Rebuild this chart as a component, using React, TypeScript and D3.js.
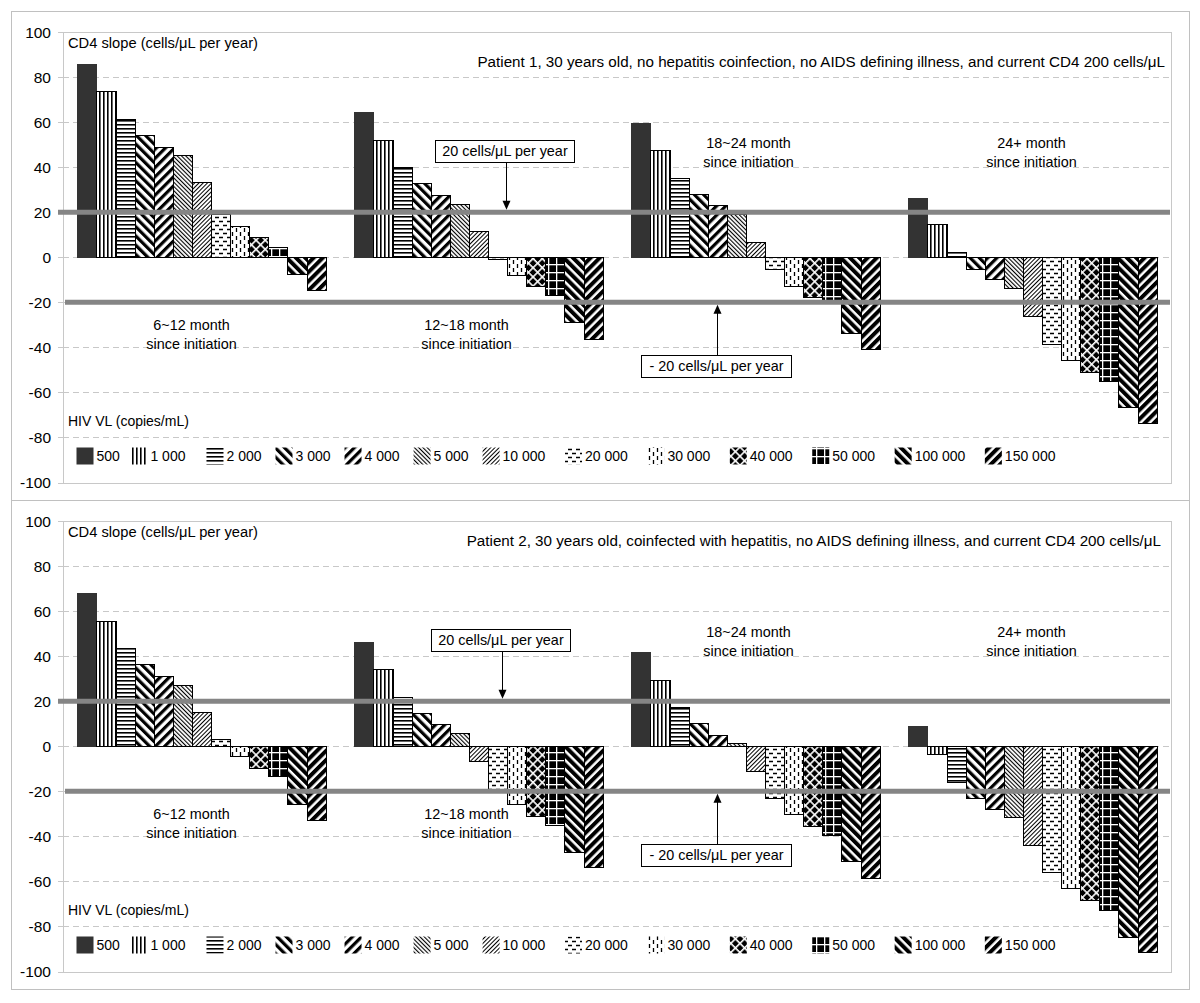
import React from "react";
import * as d3 from "d3";

// time since initiation (one group of bars each)
const categories = ["6~12 month", "12~18 month", "18~24 month", "24+ month"];
// HIV viral load series (copies/mL)
const vlLevels = ["500", "1 000", "2 000", "3 000", "4 000", "5 000", "10 000", "20 000", "30 000", "40 000", "50 000", "100 000", "150 000"];

// CD4 slope (cells/uL per year), one row per category, one value per VL level
const patient1 = [
  [85.8, 73.6, 61.3, 54.2, 49.0, 45.2, 33.2, 19.4, 13.9, 9.0, 4.7, -7.6, -14.7],
  [64.4, 52.0, 40.0, 32.8, 27.6, 23.6, 11.6, -0.8, -7.8, -12.7, -16.7, -28.7, -36.4],
  [59.5, 47.7, 35.4, 28.1, 23.2, 19.0, 6.9, -5.3, -12.7, -17.5, -20.0, -33.8, -40.9],
  [26.5, 14.6, 2.5, -5.0, -9.8, -13.8, -26.2, -38.5, -45.5, -50.9, -54.8, -66.7, -73.8],
];
const patient2 = [
  [67.9, 55.7, 43.4, 36.3, 31.3, 27.4, 15.3, 3.1, -4.4, -9.5, -13.3, -25.5, -32.6],
  [46.4, 34.2, 21.9, 14.8, 9.8, 5.9, -6.5, -18.8, -25.8, -31.0, -34.8, -47.0, -53.8],
  [41.8, 29.6, 17.6, 10.4, 5.2, 1.3, -10.8, -22.9, -30.0, -35.2, -39.2, -51.0, -58.4],
  [8.8, -3.5, -15.8, -22.9, -27.9, -31.6, -43.7, -56.0, -63.1, -68.3, -72.6, -84.5, -91.5],
];
const yTicks = [100, 80, 60, 40, 20, 0, -20, -40, -60, -80, -100];
const thresholds = [20, -20];

const FONT = "'Liberation Sans', Arial, sans-serif";
const GRID = "#c8c8c8";
const REF = "#858585";

// Excel-like pattern fills, one per VL level
const Patterns = () => {
  const stripes = (id, size, w, angle) => (
    <pattern id={id} key={id} patternUnits="userSpaceOnUse" width={size} height={size} patternTransform={`rotate(${angle})`}>
      <rect width={size} height={size} fill="#fff" />
      <rect width={w} height={size} fill="#000" />
    </pattern>
  );
  return (
    <defs>
      {stripes("p1", 4, 1.6, 0)}
      {stripes("p2", 4, 1.6, 90)}
      {stripes("p3", 6.5, 3.2, -45)}
      {stripes("p4", 6.5, 3.2, 45)}
      {stripes("p5", 3, 1.1, -45)}
      {stripes("p6", 3, 1.0, 45)}
      <pattern id="p7" patternUnits="userSpaceOnUse" width={8} height={8}>
        <rect width={8} height={8} fill="#fff" />
        <path d="M0,1.5h4M4,5.5h4" stroke="#000" strokeWidth={1.3} />
      </pattern>
      <pattern id="p8" patternUnits="userSpaceOnUse" width={8} height={8}>
        <rect width={8} height={8} fill="#fff" />
        <path d="M1.5,0v4M5.5,4v4" stroke="#000" strokeWidth={1.3} />
      </pattern>
      <pattern id="p9" patternUnits="userSpaceOnUse" width={6.5} height={6.5} patternTransform="rotate(45)">
        <rect width={6.5} height={6.5} fill="#000" />
        <rect width={1.6} height={6.5} fill="#fff" />
        <rect width={6.5} height={1.6} fill="#fff" />
      </pattern>
      <pattern id="p10" patternUnits="userSpaceOnUse" width={8} height={8}>
        <rect width={8} height={8} fill="#000" />
        <rect width={1.3} height={8} fill="#fff" />
        <rect width={8} height={1.3} fill="#fff" />
      </pattern>
      {stripes("p11", 6.5, 4, -45)}
      {stripes("p12", 6.5, 4, 45)}
    </defs>
  );
};

const fillFor = (i) => (i === 0 ? "#333" : `url(#p${i})`);

// legend text width from Arial metrics (digits .556em, space .278em)
const textW = (s, size) => s.split("").reduce((a, c) => a + (c === " " ? 0.278 : 0.556), 0) * size;
const legendGap = (i) => (i === 0 ? 10.6 : i === 1 ? 21 : i < 6 ? 14 : 19.6);

const Arrow = ({ x, y1, y2 }) => {
  const dir = y2 > y1 ? 1 : -1;
  return (
    <g>
      <line x1={x} x2={x} y1={y1} y2={y2 - dir * 8} stroke="#000" strokeWidth={1} />
      <path d={`M${x - 4},${y2 - dir * 9}L${x + 4},${y2 - dir * 9}L${x},${y2}Z`} fill="#000" />
    </g>
  );
};

const Panel = ({ data, dy, title, titleY, titleX, boxX }) => {
  const top = 32 + dy;
  const bottom = 482.5 + dy;
  const left = 63;
  const right = 1171;

  const y = d3.scaleLinear().domain([-100, 100]).range([bottom, top]);
  const x0 = d3.scaleBand().domain(categories).range([left, right]).paddingInner(0).paddingOuter(0);
  const x1 = d3.scaleBand().domain(vlLevels).range([0, x0.bandwidth()]).paddingInner(0).paddingOuter(0.75);

  const labelDx = [-10, -12, -7, -1];
  const labelLow = [true, true, false, false];

  // legend layout
  let lx = 76.5;
  const legendItems = vlLevels.map((lv, i) => {
    const item = { lv, i, x: lx };
    lx += 17 + 3 + textW(lv, 14) + legendGap(i);
    return item;
  });
  const legY = 456 + dy;

  return (
    <g>
      <rect x={11.5} y={11.5 + (dy ? 489 : 0)} width={1178} height={489} fill="#fff" stroke="#c0c0c0" strokeWidth={1} />
      {/* gridlines */}
      {yTicks.filter((t) => t !== 100 && t !== -100).map((t) => (
        <line key={t} x1={left} x2={right} y1={Math.round(y(t)) + 0.5} y2={Math.round(y(t)) + 0.5} stroke={GRID} strokeDasharray="6,4" />
      ))}
      <rect x={left + 0.5} y={Math.round(top) + 0.5} width={right - left} height={Math.round(bottom - top)} fill="none" stroke={GRID} />
      {yTicks.map((t) => (
        <g key={t}>
          <line x1={58} x2={left} y1={Math.round(y(t)) + 0.5} y2={Math.round(y(t)) + 0.5} stroke={GRID} />
          <text x={51} y={y(t) + 5.5} textAnchor="end" fontSize={15.5} fontFamily={FONT} fill="#000">{t}</text>
        </g>
      ))}

      {/* bars */}
      {data.map((row, ci) => (
        <g key={ci} transform={`translate(${x0(categories[ci])},0)`}>
          {row.map((v, si) => {
            const ya = Math.round(y(Math.max(0, v)));
            const yb = Math.round(y(Math.min(0, v)));
            const xa = Math.round(x1(vlLevels[si]));
            const xb = Math.round(x1(vlLevels[si]) + x1.bandwidth());
            return (
              <rect key={si} x={xa + 0.5} y={ya + 0.5} width={xb - xa} height={Math.max(0.5, yb - ya)}
                fill={fillFor(si)} stroke={si === 0 ? "#333" : "#000"} strokeWidth={1} />
            );
          })}
        </g>
      ))}

      {/* reference lines */}
      <line x1={58} x2={1170} y1={y(thresholds[0])} y2={y(thresholds[0])} stroke={REF} strokeWidth={5} />
      <line x1={65} x2={1170} y1={y(thresholds[1])} y2={y(thresholds[1])} stroke={REF} strokeWidth={5} />

      {/* texts */}
      <text x={68} y={48 + dy} fontSize={14.7} fontFamily={FONT}>CD4 slope (cells/μL per year)</text>
      <text x={titleX} y={titleY} textAnchor="end" fontSize={15.2} fontFamily={FONT}>{title}</text>
      {categories.map((c, ci) => {
        const cx = x0(c) + x0.bandwidth() / 2 + labelDx[ci];
        const by = labelLow[ci] ? 330 + dy : 148 + dy;
        return (
          <text key={c} x={cx} y={by} textAnchor="middle" fontSize={14.4} fontFamily={FONT}>
            <tspan x={cx}>{c}</tspan>
            <tspan x={cx} dy={19}>since initiation</tspan>
          </text>
        );
      })}

      {/* annotation boxes */}
      <rect x={boxX - 69.5} y={140.5 + dy} width={139} height={22} fill="#fff" stroke="#000" />
      <text x={boxX} y={156 + dy} textAnchor="middle" fontSize={14.4} fontFamily={FONT}>20 cells/μL per year</text>
      <Arrow x={boxX + 1.5} y1={162.5 + dy} y2={y(thresholds[0]) - 2.5} />
      <rect x={641.5} y={355.5 + dy} width={150} height={22} fill="#fff" stroke="#000" />
      <text x={716.5} y={371 + dy} textAnchor="middle" fontSize={14.4} fontFamily={FONT}>- 20 cells/μL per year</text>
      <Arrow x={717.5} y1={355.5 + dy} y2={y(thresholds[1]) + 2.5} />

      {/* legend */}
      <text x={68} y={426 + dy} fontSize={14} fontFamily={FONT}>HIV VL (copies/mL)</text>
      {legendItems.map((d) => (
        <g key={d.lv}>
          <rect x={d.x} y={legY - 8.5} width={17} height={17} fill={fillFor(d.i)} />
          <text x={d.x + 20} y={legY + 5} fontSize={14} fontFamily={FONT}>{d.lv}</text>
        </g>
      ))}
    </g>
  );
};

export default function App() {
  return (
    <svg width={1200} height={1003} style={{ position: "absolute", left: 0, top: 0, background: "#fff" }}>
      <Patterns />
      <rect width={1200} height={1003} fill="#fff" />
      <Panel data={patient1} dy={0} boxX={505} titleX={1165} titleY={67}
        title="Patient 1, 30 years old, no hepatitis coinfection, no AIDS defining illness, and current CD4 200 cells/μL" />
      <Panel data={patient2} dy={489} boxX={501} titleX={1161} titleY={546}
        title="Patient 2, 30 years old, coinfected with hepatitis, no AIDS defining illness, and current CD4 200 cells/μL" />
    </svg>
  );
}
